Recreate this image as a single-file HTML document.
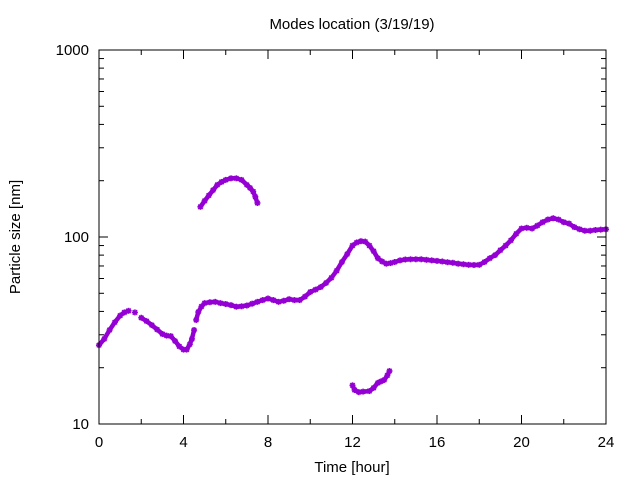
<!DOCTYPE html>
<html><head><meta charset="utf-8"><style>
html,body{margin:0;padding:0;background:#fff}
svg{display:block;font-family:"Liberation Sans",sans-serif}
</style></head><body>
<svg id="chart" width="640" height="480" viewBox="0 0 640 480">
<rect width="640" height="480" fill="#fff"/>
<text x="352" y="29" font-size="15" text-anchor="middle">Modes location (3/19/19)</text>
<text x="352" y="472" font-size="15" text-anchor="middle">Time [hour]</text>
<text transform="translate(20,237) rotate(-90)" font-size="15" text-anchor="middle">Particle size [nm]</text>
<g id="axes"></g>
<g id="marks"></g>
<rect x="99" y="50" width="507" height="374" fill="none" stroke="#000" stroke-width="1"/>
</svg>
<script>
const xTicks=[0,4,8,12,16,20,24];
const yTicks=[10,100,1000];
const mainT=[0,0.25,0.5,0.75,1,1.2,1.4,1.7,2,2.25,2.5,2.75,3,3.2,3.4,3.6,3.8,4,4.15,4.3,4.4,4.5,4.6,4.7,4.85,5,5.25,5.5,5.75,6,6.25,6.5,6.75,7,7.25,7.5,7.75,8,8.25,8.5,8.75,9,9.25,9.5,9.75,10,10.25,10.5,10.75,11,11.25,11.5,11.75,12,12.2,12.4,12.6,12.8,13,13.2,13.4,13.6,13.8,14,14.25,14.5,14.75,15,15.25,15.5,15.75,16,16.25,16.5,16.75,17,17.25,17.5,17.75,18,18.25,18.5,18.75,19,19.25,19.5,19.75,20,20.25,20.5,20.75,21,21.25,21.5,21.75,22,22.25,22.5,22.75,23,23.25,23.5,23.75,24];
const mainV=[26.4,28.5,31.8,35,38,39.5,40.3,39.5,37,35.5,33.8,32,30.3,29.7,29.5,27.8,26,25,25,26.7,28.5,31.8,36,39.7,42.5,44.3,44.8,45,44.3,43.8,43.2,42.4,42.6,43,44,45,46,46.9,46,45,45.6,46.5,46,46,48,50.8,52.3,54,56.8,60.5,66,73.5,81,90,93.5,95,94.5,90,84,77,74,72,72.5,73.5,75,75.8,76,76,76,75.5,75,74.5,74,73.3,72.8,72,71.5,71,70.8,71,73.5,77,80,85,90,96,104,111,112,111,115,120,124,126,124,120,118,113,110,108,108,109,109.5,110,111];
const upT=[4.8,5,5.2,5.4,5.6,5.8,6,6.25,6.5,6.75,7,7.15,7.3,7.4,7.5];
const upV=[145,156,167,178,190,197,202,206,206,202,190,183,175,164,152];
const lowT=[12,12.1,12.3,12.5,12.8,13,13.2,13.35,13.5,13.65,13.75];
const lowV=[16.1,15.2,14.8,14.9,15,15.6,16.6,16.9,17.2,18.2,19.2];
const X0=99,X1=606,Y0=424,Y1=50;
const sx=t=>X0+(t/24)*(X1-X0);
const sy=v=>Y0-(Math.log10(v)-1)/2*(Y0-Y1);
const NS="http://www.w3.org/2000/svg";
const axes=document.getElementById('axes'),marks=document.getElementById('marks');
function ln(g,x1,y1,x2,y2,name){const l=document.createElementNS(NS,'line');l.setAttribute('x1',x1);l.setAttribute('y1',y1);l.setAttribute('x2',x2);l.setAttribute('y2',y2);l.setAttribute('stroke','#000');


g.appendChild(l);}
function tx(x,y,s,anchor,name){const t=document.createElementNS(NS,'text');t.setAttribute('x',x);t.setAttribute('y',y);t.setAttribute('font-size','15');t.setAttribute('text-anchor',anchor);t.textContent=s;


axes.appendChild(t);}
for(let t=0;t<=24;t+=2){const x=sx(t),L=(t%4===0)?9:5;ln(axes,x,Y0,x,Y0-L,'x-tick');ln(axes,x,Y1,x,Y1+L,'x-tick-top');}
xTicks.forEach(t=>tx(sx(t),447,String(t),'middle','x-tick-label'));
for(let d=10;d<1000;d*=10){for(let m=1;m<10;m++){const y=sy(d*m),L=m===1?9:5;ln(axes,X0,y,X0+L,y,'y-tick');ln(axes,X1,y,X1-L,y,'y-tick-right');}}
yTicks.forEach(v=>tx(89,sy(v)+5,String(v),'end','y-tick-label'));
function band(ts,vs,name,skip){
  const p=document.createElementNS(NS,'path');let d='';
  ts.forEach((t,i)=>{const brk=skip&&i>0&&(t-ts[i-1]>0.3||Math.abs(Math.log10(vs[i]/vs[i-1]))>0.05);d+=(i===0||brk?'M':'L')+sx(t).toFixed(1)+','+sy(vs[i]).toFixed(1);});
  p.setAttribute('d',d);p.setAttribute('fill','none');p.setAttribute('stroke','#9400d3');p.setAttribute('stroke-width','4.5');p.setAttribute('stroke-linejoin','round');p.setAttribute('stroke-linecap','round');
  
  
  marks.appendChild(p);}
function mark(t,v,name){const g=document.createElementNS(NS,'g');const x=sx(t),y=sy(v);


g.setAttribute('stroke','#9400d3');g.setAttribute('stroke-width','1.6');
[[-3,0,3,0],[0,-3,0,3],[-2.2,-2.2,2.2,2.2],[-2.2,2.2,2.2,-2.2]].forEach(s=>{const l=document.createElementNS(NS,'line');l.setAttribute('x1',x+s[0]);l.setAttribute('y1',y+s[1]);l.setAttribute('x2',x+s[2]);l.setAttribute('y2',y+s[3]);g.appendChild(l);});
marks.appendChild(g);}
band(mainT,mainV,'main-mode-trace',true);
band(upT,upV,'upper-mode-trace',false);
band(lowT,lowV,'lower-mode-trace',false);
mainT.forEach((t,i)=>mark(t,mainV[i],'main-mode-point'));
upT.forEach((t,i)=>mark(t,upV[i],'upper-mode-point'));
lowT.forEach((t,i)=>mark(t,lowV[i],'lower-mode-point'));
</script>
</body></html>
